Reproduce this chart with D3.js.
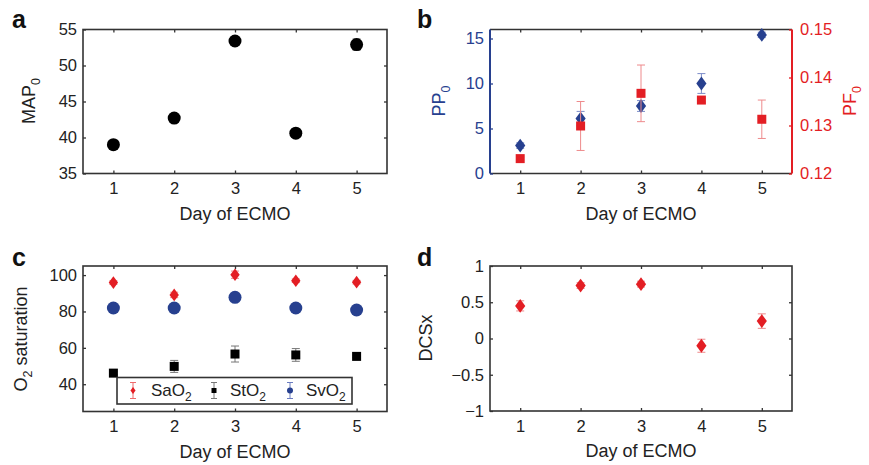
<!DOCTYPE html>
<html>
<head>
<meta charset="UTF-8">
<title>ECMO panels</title>
<style>
    body { margin: 0; background: white; }
    svg { font-family: "Liberation Sans", Arial, sans-serif; }
</style>
</head>
<body>
<svg id="chart"></svg>
<script src="https://d3js.org/d3.v7.min.js"></script>
<script>
    // day of ECMO
    let days = [1, 2, 3, 4, 5];

    // panel a
    let mapVal = [39.0, 42.7, 53.4, 40.6, 52.9];
    let mapErr = [0.3, 0.3, 0.3, 0.3, 0.8];

    // panel b
    let ppVal = [3.1, 6.1, 7.5, 10.0, 15.4];
    let ppErr = [0.3, 0.8, 0.6, 1.1, 0.3];
    let pfVal = [0.1231, 0.1299, 0.1367, 0.1353, 0.1313];
    let pfErr = [0.0003, 0.0051, 0.0059, 0.0004, 0.0040];

    // panel c
    let saoVal = [95.9, 89.1, 100.2, 96.9, 96.1];
    let saoErr = [1.0, 1.5, 2.0, 1.0, 1.0];
    let stoVal = [46.1, 49.8, 56.6, 56.1, 55.3];
    let stoErr = [0.8, 3.3, 4.4, 3.5, 0.6];
    let svoVal = [81.9, 81.9, 87.8, 81.9, 80.8];
    let svoErr = [0.5, 0.5, 0.5, 0.5, 0.5];

    // panel d
    let dcsVal = [0.45, 0.73, 0.75, -0.10, 0.24];
    let dcsErr = [0.07, 0.04, 0.04, 0.09, 0.1];

    let red = "#e31e24", blue = "#27408f", dark = "#333";
    let width = 869, height = 465;

    let svg = d3.select("#chart").attr("width", width).attr("height", height);

    function marker(g, shape, x, y, color, s) {
        if (shape == "circle") {
            g.append("circle").attr("cx", x).attr("cy", y).attr("r", s).attr("fill", color);
        } else if (shape == "square") {
            g.append("rect").attr("x", x - s).attr("y", y - s).attr("width", 2 * s).attr("height", 2 * s).attr("fill", color);
        } else {
            let w = s * 0.85, h = s * 1.15;
            g.append("path").attr("d", `M${x},${y - h}L${x + w},${y}L${x},${y + h}L${x - w},${y}Z`).attr("fill", color);
        }
    }

    function series(g, x, y, vals, errs, shape, color, errColor, s) {
        days.forEach((d, i) => {
            let cx = x(d);
            let y1 = y(vals[i] + errs[i]), y2 = y(vals[i] - errs[i]);
            let eg = g.append("g").attr("stroke", errColor).attr("stroke-width", 1);
            eg.append("line").attr("x1", cx).attr("x2", cx).attr("y1", y1).attr("y2", y2);
            eg.append("line").attr("x1", cx - 4).attr("x2", cx + 4).attr("y1", y1).attr("y2", y1);
            eg.append("line").attr("x1", cx - 4).attr("x2", cx + 4).attr("y1", y2).attr("y2", y2);
            marker(g, shape, cx, y(vals[i]), color, s);
        });
    }

    function styleAxis(g, color) {
        g.selectAll("text").attr("fill", color || "#222").style("font-size", "16.5px");
        g.selectAll("line").attr("stroke", color || dark).attr("stroke-width", 1.3);
        g.select(".domain").remove();
    }

    function panel(left, right, top, bottom, yDomain) {
        let x = d3.scaleLinear().domain([0.5, 5.5]).range([left, right]);
        let y = d3.scaleLinear().domain(yDomain).range([bottom, top]);
        let g = svg.append("g");
        g.append("g").attr("transform", `translate(0,${bottom})`)
            .call(d3.axisBottom(x).tickValues(days).tickSize(-3).tickPadding(9).tickFormat(d3.format("d")))
            .call(a => styleAxis(a));
        g.append("g").attr("transform", `translate(0,${top})`)
            .call(d3.axisTop(x).tickValues(days).tickSize(-3).tickFormat(""))
            .call(a => styleAxis(a));
        g.append("text").attr("x", (left + right) / 2).attr("y", bottom + 46)
            .attr("text-anchor", "middle").attr("fill", "#222").style("font-size", "18px").text("Day of ECMO");
        return { g, x, y };
    }

    function yLabel(g, x, y, parts, color) {
        let t = g.append("text").attr("transform", `translate(${x},${y}) rotate(-90)`)
            .attr("text-anchor", "middle").attr("fill", color).style("font-size", "18px");
        let sub = false;
        parts.forEach(p => {
            let s = t.append("tspan").text(p[0]);
            if (p[1] && !sub) { s.attr("dy", 5).style("font-size", "12.5px"); sub = true; }
            else if (!p[1] && sub) { s.attr("dy", -5); sub = false; }
        });
    }

    function letter(x, y, t) {
        svg.append("text").attr("x", x).attr("y", y).style("font-size", "25px")
            .style("font-weight", "bold").attr("fill", "#111").text(t);
    }

    // ---- panel a
    let pa = panel(83, 387, 29.5, 173.5, [35, 55]);
    pa.g.append("g").attr("transform", "translate(83,0)")
        .call(d3.axisLeft(pa.y).tickValues([35, 40, 45, 50, 55]).tickSize(-3).tickPadding(6))
        .call(a => styleAxis(a));
    pa.g.append("g").attr("transform", "translate(387,0)")
        .call(d3.axisRight(pa.y).tickValues([40, 45, 50]).tickSize(-3).tickFormat(""))
        .call(a => styleAxis(a));
    pa.g.append("rect").attr("x", 83).attr("y", 29.5).attr("width", 304).attr("height", 144)
        .attr("fill", "none").attr("stroke", dark).attr("stroke-width", 1.6);
    series(pa.g, pa.x, pa.y, mapVal, mapErr, "circle", "#000", "#888", 6.5);
    yLabel(pa.g, 35, 101, [["MAP"], ["0", 1]], "#222");
    letter(12, 28, "a");

    // ---- panel b
    let pb = panel(490, 792, 29.5, 173.5, [0, 16]);
    let yR = d3.scaleLinear().domain([0.12, 0.15]).range([173.5, 29.5]);
    pb.g.append("line").attr("x1", 490).attr("x2", 792).attr("y1", 29.5).attr("y2", 29.5).attr("stroke", dark).attr("stroke-width", 1.6);
    pb.g.append("line").attr("x1", 490).attr("x2", 792).attr("y1", 173.5).attr("y2", 173.5).attr("stroke", dark).attr("stroke-width", 1.6);
    pb.g.append("g").attr("transform", "translate(490,0)")
        .call(d3.axisLeft(pb.y).tickValues([0, 5, 10, 15]).tickSize(-3).tickPadding(6))
        .call(a => styleAxis(a, blue));
    pb.g.append("line").attr("x1", 490).attr("x2", 490).attr("y1", 29.5).attr("y2", 173.5).attr("stroke", blue).attr("stroke-width", 2);
    pb.g.append("g").attr("transform", "translate(792,0)")
        .call(d3.axisRight(yR).tickValues([0.12, 0.13, 0.14, 0.15]).tickSize(-3).tickPadding(8).tickFormat(d3.format(".2f")))
        .call(a => styleAxis(a, red));
    pb.g.append("line").attr("x1", 792).attr("x2", 792).attr("y1", 29.5).attr("y2", 173.5).attr("stroke", red).attr("stroke-width", 2);
    series(pb.g, pb.x, pb.y, ppVal, ppErr, "diamond", blue, "#7c8cc8", 6);
    series(pb.g, pb.x, yR, pfVal, pfErr, "square", red, "#ee8a8c", 4.5);
    yLabel(pb.g, 445, 101, [["PP"], ["0", 1]], blue);
    yLabel(pb.g, 856, 101, [["PF"], ["0", 1]], red);
    letter(417, 28, "b");

    // ---- panel c
    let pc = panel(83, 387, 266, 411.5, [25, 105]);
    pc.g.append("g").attr("transform", "translate(83,0)")
        .call(d3.axisLeft(pc.y).tickValues([40, 60, 80, 100]).tickSize(-3).tickPadding(6))
        .call(a => styleAxis(a));
    pc.g.append("g").attr("transform", "translate(387,0)")
        .call(d3.axisRight(pc.y).tickValues([40, 60, 80, 100]).tickSize(-3).tickFormat(""))
        .call(a => styleAxis(a));
    pc.g.append("rect").attr("x", 83).attr("y", 266).attr("width", 304).attr("height", 145.5)
        .attr("fill", "none").attr("stroke", dark).attr("stroke-width", 1.6);
    series(pc.g, pc.x, pc.y, saoVal, saoErr, "diamond", red, "#ee8a8c", 5.5);
    series(pc.g, pc.x, pc.y, stoVal, stoErr, "square", "#000", "#777", 4.5);
    series(pc.g, pc.x, pc.y, svoVal, svoErr, "circle", blue, "#7c8cc8", 6.5);

    // legend
    let lg = pc.g.append("g");
    lg.append("rect").attr("x", 117).attr("y", 377.5).attr("width", 235).attr("height", 26.5)
        .attr("fill", "white").attr("stroke", dark).attr("stroke-width", 1.6);
    let legendItems = [
        { name: "Sa", shape: "diamond", color: red, err: "#ee6a6c", mx: 133, tx: 151 },
        { name: "St", shape: "square", color: "#000", err: "#777", mx: 214, tx: 230 },
        { name: "Sv", shape: "circle", color: blue, err: "#6b7cc0", mx: 290, tx: 306 }
    ];
    legendItems.forEach(it => {
        let cy = 390.5;
        let eg = lg.append("g").attr("stroke", it.err).attr("stroke-width", 1);
        eg.append("line").attr("x1", it.mx).attr("x2", it.mx).attr("y1", cy - 8).attr("y2", cy + 8);
        eg.append("line").attr("x1", it.mx - 3).attr("x2", it.mx + 3).attr("y1", cy - 8).attr("y2", cy - 8);
        eg.append("line").attr("x1", it.mx - 3).attr("x2", it.mx + 3).attr("y1", cy + 8).attr("y2", cy + 8);
        marker(lg, it.shape, it.mx, cy, it.color, it.shape == "square" ? 2.5 : 3);
        let t = lg.append("text").attr("x", it.tx).attr("y", cy + 5).attr("fill", "#222").style("font-size", "17px");
        t.append("tspan").text(it.name + "O");
        t.append("tspan").attr("dy", 5).style("font-size", "12px").text("2");
    });
    yLabel(pc.g, 27, 339, [["O"], ["2", 1], [" saturation"]], "#222");
    letter(12, 266, "c");

    // ---- panel d
    let pd = panel(490, 792, 266, 411, [-1, 1]);
    pd.g.append("g").attr("transform", "translate(490,0)")
        .call(d3.axisLeft(pd.y).tickValues([-1, -0.5, 0, 0.5, 1]).tickSize(-3).tickPadding(6).tickFormat(d3.format("")))
        .call(a => styleAxis(a));
    pd.g.append("g").attr("transform", "translate(792,0)")
        .call(d3.axisRight(pd.y).tickValues([-0.5, 0, 0.5]).tickSize(-3).tickFormat(""))
        .call(a => styleAxis(a));
    pd.g.append("rect").attr("x", 490).attr("y", 266).attr("width", 302).attr("height", 145)
        .attr("fill", "none").attr("stroke", dark).attr("stroke-width", 1.6);
    series(pd.g, pd.x, pd.y, dcsVal, dcsErr, "diamond", red, "#ee8a8c", 6);
    yLabel(pd.g, 432, 338, [["DCSx"]], "#222");
    letter(417, 266, "d");
</script>
</body>
</html>
